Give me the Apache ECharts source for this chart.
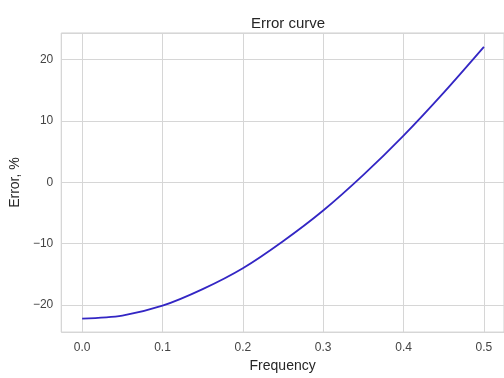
<!DOCTYPE html>
<html>
<head>
<meta charset="utf-8">
<script src="https://cdn.jsdelivr.net/npm/echarts@6/dist/echarts.min.js"></script>
<style>html,body{margin:0;padding:0;background:#fff}#c{width:504px;height:378px}</style>
</head>
<body>
<div id="c"></div>
<script>
const frequency = [0.0, 0.05, 0.1, 0.15, 0.2, 0.25, 0.3, 0.35, 0.4, 0.45, 0.5];
const errorPct = [-22.2, -21.7, -20.1, -17.4, -14.0, -9.6, -4.6, 1.2, 7.6, 14.6, 22.05];
const titleText = 'Error curve';
const xName = 'Frequency';
const yName = 'Error, %';

const chart = echarts.init(document.getElementById('c'), null, {renderer: 'canvas'});
const font = 'Liberation Sans, Arial, sans-serif';
chart.setOption({
  animation: false,
  backgroundColor: '#fff',
  title: {
    text: titleText, left: 283, top: 11, textAlign: 'center',
    textStyle: {fontFamily: font, fontSize: 15, fontWeight: 'normal', color: '#262626'}
  },
  grid: {left: 61, top: 33, width: 444, height: 305, show: true, borderColor: '#cfcfcf', borderWidth: 1, backgroundColor: '#fff'},
  xAxis: {
    type: 'value', min: -0.026, max: 0.525, splitNumber: 5,
    name: xName, nameLocation: 'middle', nameGap: 26,
    nameTextStyle: {fontFamily: font, fontSize: 14, color: '#262626'},
    axisLine: {show: false}, axisTick: {show: false},
    axisLabel: {fontFamily: font, fontSize: 12, color: '#444', margin: 10,
      showMinLabel: false, showMaxLabel: false,
      formatter: v => v.toFixed(1)},
    splitLine: {show: true, lineStyle: {color: '#d6d6d6', width: 1}}
  },
  yAxis: {
    type: 'value', min: -24.4, max: 24.3, splitNumber: 5,
    name: yName, nameLocation: 'middle', nameGap: 38, nameRotate: 90,
    nameTextStyle: {fontFamily: font, fontSize: 14, color: '#262626'},
    axisLine: {show: false}, axisTick: {show: false},
    axisLabel: {fontFamily: font, fontSize: 12, color: '#444', margin: 8,
      showMinLabel: false, showMaxLabel: false,
      formatter: v => String(v).replace('-', '\u2212')},
    splitLine: {show: true, lineStyle: {color: '#d6d6d6', width: 1}}
  },
  series: [{
    type: 'line', data: frequency.map((f, i) => [f, errorPct[i]]),
    smooth: 0.3, showSymbol: false, symbol: 'none',
    lineStyle: {color: '#3326c4', width: 1.8}
  }]
});
</script>
</body>
</html>
